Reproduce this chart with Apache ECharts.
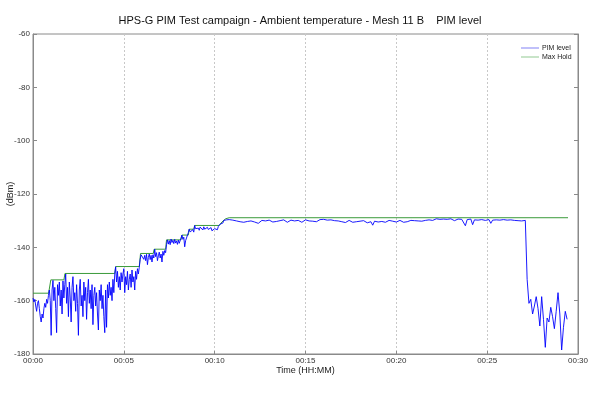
<!DOCTYPE html>
<html><head><meta charset="utf-8">
<script src="https://cdn.jsdelivr.net/npm/echarts@6/dist/echarts.min.js"></script>
<style>html,body{margin:0;padding:0;background:#fff}#c{width:600px;height:394px}</style>
</head><body><div id="c"></div>
<script>
const titleText = 'HPS-G PIM Test campaign - Ambient temperature - Mesh 11 B    PIM level';
const seriesNames = ['PIM level', 'Max Hold'];
const xAxisName = 'Time (HH:MM)';
const yAxisName = '(dBm)';
const xTickLabels = ['00:00', '00:05', '00:10', '00:15', '00:20', '00:25', '00:30'];
const yTicks = [-180, -160, -140, -120, -100, -80, -60];

// PIM level, part 1: one sample every 0.05 min from 00:00 to 10.70 min
const fineStartMin = 0;
const fineStepMin = 0.05;
const pimLevelFine = [
  -159, -160.5, -159.5, -162, -164, -161, -160, -163, -166, -168, -165, -166.5, -163, -161, -162.5, -159.5, -161, -158, -156, -160,
  -173, -156, -152.4, -160, -155, -163, -172, -154, -158, -153, -162, -156, -165, -152.6, -159, -154, -150, -161, -155, -166,
  -153, -159, -168, -155, -151, -160, -157, -164, -154, -161, -173, -156, -152, -162, -158, -166, -153, -160, -155, -167,
  -157, -152, -161, -156, -163, -154, -169, -158, -155, -162, -157, -165, -171, -156, -160, -154, -163, -158, -166, -172,
  -156, -170, -154, -159, -153, -158, -155, -160, -152, -157, -150, -147.3, -153, -149, -155, -151, -156, -149.5, -153, -150,
  -148, -157, -151, -154, -149, -156, -152, -150, -155, -148.5, -153, -151, -156, -149, -152, -148, -150, -147.5, -144.5, -142.8,
  -143.5, -142.3, -144.5, -143, -145, -142.6, -146.5, -143.8, -142.5, -144.6, -143, -145.5, -142.8, -144, -140.7, -143.5, -142, -145, -143.2, -141.8,
  -144, -142.5, -145.5, -141.5, -143, -141.2, -142, -139, -137.2, -138.8, -137.5, -139, -136.9, -138.2, -137.4, -138.6, -137, -138.4, -137.6, -138.9,
  -137.3, -138.5, -137.5, -138.2, -135.4, -137, -136.2, -139.8, -137.5, -136.5, -135.8, -134.5, -133.2, -134.2, -133.5, -134, -133.4, -134.3, -131.8, -133,
  -132.6, -133.4, -132.8, -133.6, -132.4, -133.1, -132.7, -133.5, -132.3, -133.2, -132.9, -133.7, -132.5, -133.3, -132.8, -133.4, -132.6, -133.8, -133.1, -133.9,
  -133, -133.6, -132.8, -133.4, -132.2, -132.5, -131.3, -131.6, -130.6, -130.9, -129.9, -130.2, -129.4, -129.7, -129.1
];

// PIM level, part 2: one sample every 0.1 min from 10.8 min to 29.4 min
const coarseStartMin = 10.8;
const coarseStepMin = 0.1;
const pimLevelCoarse = [
  -129.6, -130.2, -129.8, -130.5, -130.1, -129.7, -130.4, -130.0, -130.6, -129.9,
  -130.3, -130.8, -130.1, -129.8, -130.5, -130.2, -131.0, -130.4, -129.9, -130.3,
  -130.1, -130.6, -129.8, -130.2, -130.5, -129.9, -130.3, -130.7, -130.0, -130.4,
  -129.7, -130.2, -130.6, -130.0, -129.8, -130.4, -130.1, -130.5, -129.9, -130.2,
  -130.6, -130.0, -129.7, -130.3, -130.1, -130.8, -130.2, -129.9, -130.4, -130.0,
  -129.6, -129.9, -129.5, -130.1, -129.8, -130.3, -129.7, -130.2, -130.0, -130.5,
  -130.1, -129.8, -130.4, -130.0, -130.7, -130.2, -129.9, -130.3, -130.6, -130.1,
  -130.4, -129.9, -130.2, -130.5, -130.0, -130.3, -130.8, -130.1, -130.4, -131.7,
  -130.2, -130.0, -130.5, -129.8, -130.3, -130.1, -130.6, -130.0, -129.9, -130.4,
  -130.2, -129.8, -130.5, -130.1, -129.9, -130.3, -130.6, -130.0, -130.4, -130.2,
  -129.9, -130.3, -130.0, -130.5, -130.1, -129.8, -130.2, -129.6, -129.9, -129.5,
  -129.7, -129.4, -129.9, -129.6, -129.3, -129.8, -129.5, -129.9, -129.4, -129.7,
  -129.5, -129.8, -129.3, -129.7, -130.0, -129.6, -129.4, -129.9, -129.5, -129.8,
  -131.9, -129.6, -129.9, -129.4, -131.5, -129.7, -129.3, -129.8, -129.5, -129.6,
  -129.4, -129.9, -129.2, -129.6, -131.0, -129.8, -130.2, -129.7, -130.1, -129.8,
  -130.0, -129.6, -130.3, -129.8, -130.1, -129.7, -130.2, -129.9, -129.6, -130.0,
  -129.8, -130.1, -129.7,
  -129.9,
  -152, -161, -159.5, -165, -162, -158.5, -163, -169.5, -158.5, -167,
  -177.5, -166.5, -168, -162.5, -166, -170.5, -164, -157, -165, -178.5,
  -170, -164, -167
];

// Max Hold breakpoints (minutes, dBm)
const maxHoldTime = [0, 0.86, 0.98, 1.70, 1.76, 4.50, 4.55, 5.85, 5.92, 6.62, 6.67, 7.30, 7.35,
  8.15, 8.20, 8.55, 8.60, 8.85, 8.90, 10.25, 10.30, 10.40, 10.50, 10.60, 10.70, 10.80, 29.45];
const maxHoldValue = [-157.2, -157.2, -152.2, -152.2, -149.8, -149.8, -147.2, -147.2, -142.3, -142.3, -140.7, -140.7, -137.2,
  -137.2, -135.4, -135.4, -133.2, -133.2, -131.8, -131.8, -131.2, -130.5, -129.8, -129.3, -129.0, -128.9, -128.9];

const pimData = pimLevelFine.map((v, i) => [+(fineStartMin + i * fineStepMin).toFixed(3), v])
  .concat(pimLevelCoarse.map((v, i) => [+(coarseStartMin + i * coarseStepMin).toFixed(3), v]));
const maxHoldData = maxHoldTime.map((t, i) => [t, maxHoldValue[i]]);

const FONT = '"Liberation Sans", Arial, sans-serif';
const AX = '#8a8a8a';
const BLUE = '#0000ff';
const GREEN = '#3a9a3a';

const chart = echarts.init(document.getElementById('c'), null, { renderer: 'canvas' });
chart.setOption({
  animation: false,
  backgroundColor: '#fff',
  textStyle: { fontFamily: FONT },
  title: {
    text: titleText, left: 'center', top: 10,
    textStyle: { fontSize: 11, fontWeight: 'normal', color: '#111', fontFamily: FONT }
  },
  legend: {
    data: [
      { name: seriesNames[0], icon: 'rect', itemStyle: { color: '#8080f4' } },
      { name: seriesNames[1], icon: 'rect', itemStyle: { color: '#90c890' } }
    ],
    orient: 'vertical', left: 521, top: 44,
    itemWidth: 18, itemHeight: 1, itemGap: 1, padding: 0,
    textStyle: { fontSize: 7, color: '#222', fontFamily: FONT, padding: [0, 0, 0, -2], lineHeight: 8 }
  },
  grid: { left: 33, top: 34, width: 545, height: 320, show: true, borderColor: AX, borderWidth: 1,
    backgroundColor: 'transparent', containLabel: false, outerBoundsMode: 'none' },
  xAxis: {
    type: 'value', min: 0, max: 30, interval: 5,
    name: xAxisName, nameLocation: 'middle', nameGap: 12, nameMoveOverlap: false,
    nameTextStyle: { fontSize: 9, color: '#222', fontFamily: FONT },
    axisLine: { lineStyle: { color: AX } },
    axisTick: { inside: true, length: 3, lineStyle: { color: AX } },
    axisLabel: { fontSize: 8, color: '#333', margin: 3, fontFamily: FONT, formatter: v => xTickLabels[Math.round(v / 5)] },
    splitLine: { show: true, lineStyle: { color: '#c8c8c8', type: [2, 2], width: 1 } }
  },
  yAxis: [{
    type: 'value', min: yTicks[0], max: yTicks[yTicks.length - 1], interval: 20,
    name: yAxisName, nameLocation: 'middle', nameGap: 18, nameRotate: 90, nameMoveOverlap: false,
    nameTextStyle: { fontSize: 9, color: '#222', fontFamily: FONT },
    axisLine: { show: true, lineStyle: { color: AX } },
    axisTick: { show: true, inside: true, length: 4, lineStyle: { color: AX } },
    axisLabel: { fontSize: 8, color: '#333', margin: 3, fontFamily: FONT },
    splitLine: { show: false }
  }, {
    type: 'value', position: 'right', min: yTicks[0], max: yTicks[yTicks.length - 1], interval: 20,
    axisLine: { show: true, lineStyle: { color: AX } },
    axisTick: { show: true, inside: true, length: 4, lineStyle: { color: AX } },
    axisLabel: { show: false }, splitLine: { show: false }
  }],
  series: [{
    name: seriesNames[0], type: 'line', data: pimData, symbol: 'none',
    lineStyle: { color: BLUE, width: 0.9 }, itemStyle: { color: BLUE }, z: 3
  }, {
    name: seriesNames[1], type: 'line', data: maxHoldData, symbol: 'none',
    lineStyle: { color: GREEN, width: 1 }, itemStyle: { color: GREEN }, z: 2
  }]
});
</script></body></html>
